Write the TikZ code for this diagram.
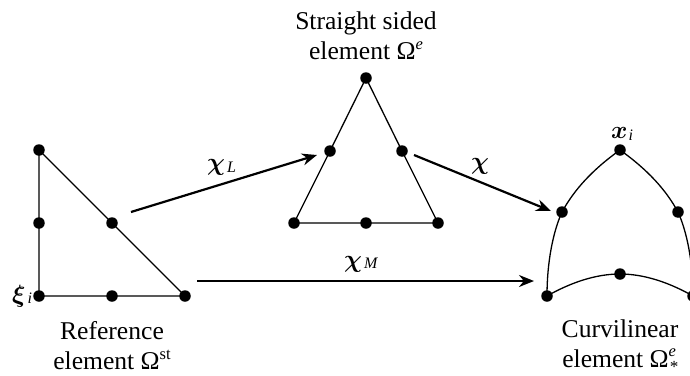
\documentclass[tikz,border=0pt]{standalone}
\usepackage{fontspec}
\setmainfont{Liberation Serif}
\usetikzlibrary{arrows.meta}
\newcommand{\bigsym}[2]{{\fontsize{#1}{#1}\selectfont\boldmath$#2$}}
\newcommand{\subt}[3]{\kern#1pt\raisebox{-#2pt}{\fontsize{16}{16}\selectfont\itshape #3}}
\newcommand{\upsc}[1]{\raisebox{0.42em}{\fontsize{16.5}{16.5}\selectfont #1}}
\newcommand{\dnsc}[1]{\raisebox{-0.22em}{\fontsize{17}{17}\selectfont\itshape #1}}
\tikzset{
  x=1pt,y=-1pt,
  dotn/.style={circle,fill=black,inner sep=0pt,minimum size=11.5pt},
  edgeline/.style={line width=1.3pt},
  maparrow/.style={line width=2.2pt,-{Stealth[length=15pt,width=12pt]}},
  caption/.style={align=center,font=\fontsize{25.6}{30}\selectfont,inner sep=0pt},
  sym/.style={inner sep=0pt,anchor=base west}
}
\begin{document}
\begin{tikzpicture}
\useasboundingbox (0,0) rectangle (690,375);
\clip (0,0) rectangle (690,375);
% reference element
\node[dotn] (r1) at (39,150) {};
\node[dotn] (r2) at (39,223) {};
\node[dotn] (r3) at (39,296) {};
\node[dotn] (r4) at (112,296) {};
\node[dotn] (r5) at (185,296) {};
\node[dotn] (r6) at (112,223) {};
\draw[edgeline] (r1.center) -- (r2.center) -- (r3.center) -- (r4.center) -- (r5.center) -- (r6.center) -- (r1.center);
% straight sided element
\node[dotn] (s1) at (366,78) {};
\node[dotn] (s2) at (330,151) {};
\node[dotn] (s3) at (402,151) {};
\node[dotn] (s4) at (294,223) {};
\node[dotn] (s5) at (366,223) {};
\node[dotn] (s6) at (438,223) {};
\draw[edgeline] (s1.center) -- (s2.center) -- (s4.center) -- (s5.center) -- (s6.center) -- (s3.center) -- (s1.center);
% curvilinear element
\node[dotn] (c1) at (620,150) {};
\node[dotn] (c2) at (562,212) {};
\node[dotn] (c3) at (678,212) {};
\node[dotn] (c4) at (547,296) {};
\node[dotn] (c5) at (620,274) {};
\node[dotn] (c6) at (693,296) {};
\draw[edgeline] (c1.center) .. controls (592,170) and (574,190) .. (c2.center)
  .. controls (553,232) and (547,262) .. (c4.center)
  .. controls (570,283) and (595,274) .. (c5.center)
  .. controls (645,274) and (670,283) .. (c6.center)
  .. controls (693,262) and (687,232) .. (c3.center)
  .. controls (666,190) and (648,170) .. (c1.center);
% arrows
\coordinate (a1s) at (131,212); \coordinate (a1e) at (317,155);
\coordinate (a2s) at (414,155); \coordinate (a2e) at (551,211);
\coordinate (a3s) at (197,281); \coordinate (a3e) at (534,281);
\draw[maparrow] (a1s) -- (a1e);
\draw[maparrow] (a2s) -- (a2e);
\draw[maparrow] (a3s) -- (a3e);
% labels
\node[sym] (lL) at (207,170) {\bigsym{28}{\chi}\subt{2}{2}{L}};
\node[sym] (lX) at (471,169) {\bigsym{28}{\chi}};
\node[sym] (lM) at (344,267) {\bigsym{28}{\chi}\subt{2}{1}{M}};
\node[sym] (lxi) at (12,302) {\bigsym{25}{\xi}\subt{2}{1}{i}};
\node[sym] (lx) at (611,138) {\bigsym{25}{x}\subt{1}{2}{i}};
\node[caption] (t1) at (366,36) {Straight sided\\element Ω\upsc{\textit{e}}};
\node[caption] (t2) at (112,346) {Reference\\element Ω\upsc{st}};
\node[caption] (t3) at (620,346) {Curvilinear\\element Ω\rlap{\upsc{\textit{e}}}\dnsc{\kern0.5pt *}};
\end{tikzpicture}
\end{document}
